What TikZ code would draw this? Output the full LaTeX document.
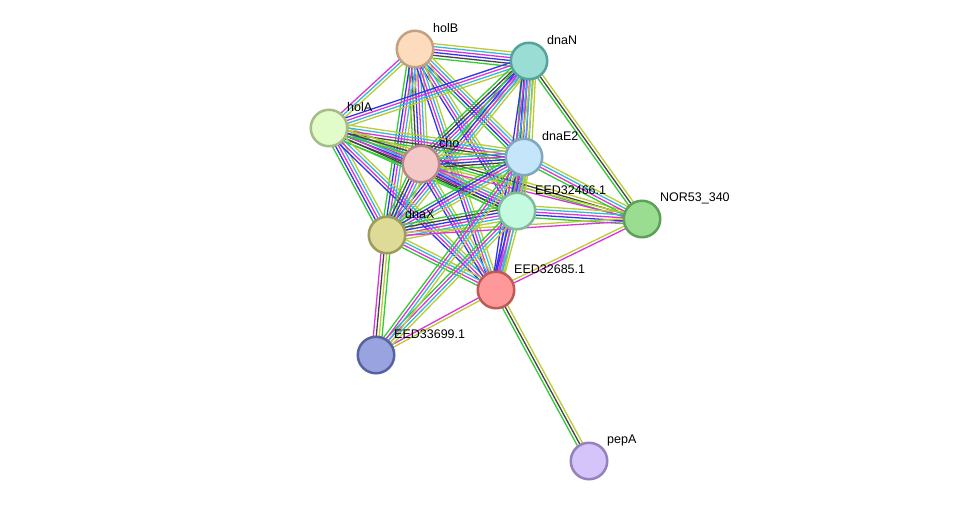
\documentclass[tikz,border=0pt]{standalone}
\usepackage{fontspec}
\setmainfont{Liberation Sans}
\usetikzlibrary{calc}
\pgfdeclarelayer{background}
\pgfsetlayers{background,main}
\definecolor{eg}{HTML}{33CC33}
\definecolor{ek}{HTML}{444444}
\definecolor{eb}{HTML}{3333EE}
\definecolor{em}{HTML}{DD33DD}
\definecolor{ec}{HTML}{33BBDD}
\definecolor{ey}{HTML}{BBCC33}
\newcommand\bund[3]{%
  \foreach \cc [count=\i] in {#3}{\xdef\nbund{\i}}%
  \foreach \cc [count=\i] in {#3}{%
    \pgfmathsetmacro\off{(\i-(\nbund+1)/2)*2.9}%
    \draw[edgeline,\cc] ($(#1)!\off pt!90:(#2)$) -- ($(#2)!\off pt!-90:(#1)$);
  }}
\begin{document}
\begin{tikzpicture}[x=1pt,y=-1pt,
  prot/.style={circle,minimum size=36.5pt,inner sep=0pt,line width=2.5pt},
  lab/.style={anchor=west,font=\fontsize{12.5pt}{12.5pt}\selectfont,inner sep=0pt},
  edgeline/.style={line width=1.3pt}]
\useasboundingbox (0,0) rectangle (975,507);
\node[prot,draw={rgb,255:red,196;green,160;blue,128},fill={rgb,255:red,253;green,220;blue,190}] (B) at (415,49) {};
\node[prot,draw={rgb,255:red,85;green,163;blue,154},fill={rgb,255:red,153;green,221;blue,213}] (N) at (529,61) {};
\node[prot,draw={rgb,255:red,167;green,187;blue,136},fill={rgb,255:red,225;green,252;blue,200}] (A) at (329,128) {};
\node[prot,draw={rgb,255:red,184;green,136;blue,136},fill={rgb,255:red,245;green,200;blue,200}] (C) at (421,164) {};
\node[prot,draw={rgb,255:red,128;green,167;blue,192},fill={rgb,255:red,196;green,229;blue,250}] (E) at (524,157) {};
\node[prot,draw={rgb,255:red,128;green,187;blue,153},fill={rgb,255:red,196;green,250;blue,224}] (S) at (517,211) {};
\node[prot,draw={rgb,255:red,94;green,160;blue,90},fill={rgb,255:red,155;green,221;blue,144}] (R) at (642,219) {};
\node[prot,draw={rgb,255:red,158;green,156;blue,92},fill={rgb,255:red,221;green,219;blue,150}] (X) at (387,235) {};
\node[prot,draw={rgb,255:red,192;green,88;blue,88},fill={rgb,255:red,255;green,153;blue,153}] (P) at (496,290) {};
\node[prot,draw={rgb,255:red,87;green,98;blue,160},fill={rgb,255:red,153;green,163;blue,224}] (Q) at (376,355) {};
\node[prot,draw={rgb,255:red,149;green,128;blue,192},fill={rgb,255:red,212;green,196;blue,250}] (pA) at (589,461) {};
\node[lab] (lB) at (433,28) {holB};
\node[lab] (lN) at (547,40) {dnaN};
\node[lab] (lA) at (347,107) {holA};
\node[lab] (lC) at (439,143) {cho};
\node[lab] (lE) at (542,136) {dnaE2};
\node[lab] (lS) at (535,190) {EED32466.1};
\node[lab] (lR) at (660,198) {NOR53\_340};
\node[lab] (lX) at (405,214) {dnaX};
\node[lab] (lP) at (514,269) {EED32685.1};
\node[lab] (lQ) at (394,334) {EED33699.1};
\node[lab] (lpA) at (607,440) {pepA};
\begin{pgfonlayer}{background}
\fill[white] (0,0) rectangle (975,507);
\bund{B}{N}{eg,ek,eb,em,ec,ey}
\bund{B}{A}{em,ec,ey}
\bund{B}{C}{eg,ek,eb,em,ec,ey}
\bund{B}{E}{eg,eb,em,ec,ey}
\bund{B}{S}{eb,em,ec,ey}
\bund{B}{X}{eg,eb,em,ec,ey}
\bund{B}{P}{eb,em,ec,ey}
\bund{N}{A}{eb,em,ec,ey}
\bund{N}{C}{eg,ek,eb,em,ec,ey}
\bund{N}{E}{eg,ek,eb,em,ec,ey}
\bund{N}{S}{eg,eb,em,ec,ey}
\bund{N}{X}{eg,eb,em,ec,ey}
\bund{N}{P}{eb,em,ec,ey}
\bund{N}{R}{eg,ek,ey}
\bund{A}{C}{eg,ek,eb,em,ec,ey}
\bund{A}{E}{eg,ek,em,ec,ey}
\bund{A}{S}{eg,ek,em,ec,ey}
\bund{A}{X}{eg,eb,em,ec,ey}
\bund{A}{P}{eb,em,ec,ey}
\bund{A}{R}{eg,ek,ey}
\bund{C}{E}{eg,ek,eb,em,ec,ey}
\bund{C}{S}{eg,ek,eb,em,ec,ey}
\bund{C}{X}{eg,ek,eb,em,ec,ey}
\bund{C}{P}{eb,em,ec,ey}
\bund{C}{R}{em,ey}
\bund{E}{S}{eg,eb,em,ec,ey}
\bund{E}{X}{eg,eb,em,ec,ey}
\bund{E}{P}{eb,em,ec,ey}
\bund{E}{R}{eg,em,ec,ey}
\bund{S}{X}{eg,ek,eb,em,ec,ey}
\bund{S}{P}{eb,em,ec,ey}
\bund{S}{R}{eg,eb,em,ec,ey}
\bund{X}{P}{eg,em,ec,ey}
\bund{X}{R}{em,ey}
\bund{P}{R}{em,ey}
\bund{X}{Q}{em,ek,ey,eg}
\bund{P}{Q}{em,ey}
\bund{S}{Q}{eg,em,ec,ey}
\bund{E}{Q}{eg,em,ec,ey}
\bund{P}{pA}{eg,ek,ey}
\end{pgfonlayer}
\end{tikzpicture}
\end{document}
